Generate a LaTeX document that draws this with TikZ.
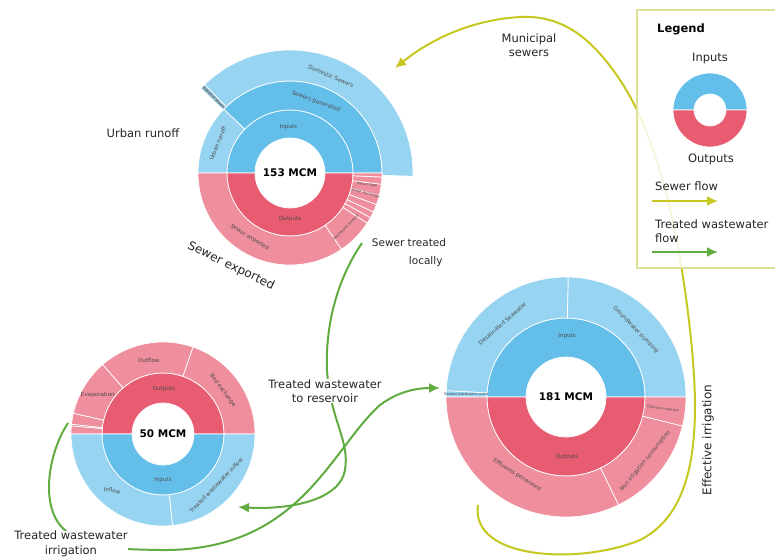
\documentclass[tikz,border=0pt]{standalone}
\usepackage{fontspec}
\setmainfont{DejaVu Sans}
\usetikzlibrary{arrows.meta}
\definecolor{blueD}{RGB}{100,190,234}
\definecolor{blueL}{RGB}{150,212,241}
\definecolor{redD}{RGB}{232,92,114}
\definecolor{redL}{RGB}{239,142,157}
\definecolor{ylw}{RGB}{198,200,32}
\definecolor{grn}{RGB}{96,172,64}
\definecolor{lgnd}{RGB}{222,224,150}
\newcommand{\sbw}[5]{\fill[#1,draw=white,line width=0.7pt] (#2:#5pt) arc[start angle=#2,end angle=#3,radius=#5pt] -- (#3:#4pt) arc[start angle=#3,end angle=#2,radius=#4pt] -- cycle;}
\tikzset{
  tiny/.style={font=\fontsize{5.6}{6}\selectfont, text=black!70, inner sep=0pt},
  micro/.style={font=\fontsize{3.5}{4}\selectfont, text=black!70, inner sep=0pt},
  lbl/.style={font=\fontsize{11.5}{14.5}\selectfont, text=black!85, align=center, inner sep=1pt},
  mcm/.style={font=\bfseries\fontsize{10.5}{12}\selectfont, text=black},
  yflow/.style={draw=ylw, line width=2pt, -{Latex[length=11pt,width=10pt]}},
  gflow/.style={draw=grn, line width=2pt, -{Latex[length=11pt,width=10pt]}},
}
\begin{document}
\begin{tikzpicture}[x=1pt,y=-1pt]
\useasboundingbox[fill=white] (0,0) rectangle (775,558);

% ---------- top sunburst ----------
\begin{scope}[shift={(290,173)}]
\sbw{blueD}{0}{180}{35}{63}
\sbw{redD}{180}{360}{35}{63}
\sbw{blueD}{0}{136}{63}{92}
\sbw{blueL}{136}{180}{63}{92}
\sbw{blueL}{-1.5}{134}{92}{123}
\sbw{blueL!70!gray}{134}{136.5}{92}{123}
\sbw{redL}{180}{304}{63}{92}
\sbw{redL}{304}{327}{63}{92}
\sbw{redL}{327}{331}{63}{92}
\sbw{redL}{331}{335}{63}{92}
\sbw{redL}{335}{340}{63}{92}
\sbw{redL}{340}{346}{63}{92}
\sbw{redL}{346}{353}{63}{92}
\sbw{redL}{353}{357.5}{63}{92}
\sbw{redL}{357.5}{360}{63}{92}
\node[tiny] (tIn) at (92:46pt) {Inputs};
\node[tiny] (tOut) at (270:46pt) {Outputs};
\node[tiny,rotate=-20] (tSg) at (70:76pt) {Sewers generated};
\node[tiny,rotate=-23] (tDs) at (67:105pt) {Domestic Sewers};
\node[tiny,rotate=68] (tUr) at (158:78pt) {Urban runoff};
\node[micro,rotate=-45] (tIs) at (135.2:107pt) {Industrial sewers};
\node[tiny,rotate=-32] (tSe) at (238:76pt) {Sewer exported};
\node[micro,rotate=45] (tWt) at (315.5:78pt) {Wastewater treated};
\node[micro,rotate=-8.5] (tRf) at (-8.5:78pt) {Return flow};
\node[micro,rotate=-15] (tSd) at (-15:78pt) {Sewer discharge};
\node[mcm] (m153) at (0,0) {153 MCM};
\end{scope}

% ---------- bottom-left sunburst ----------
\begin{scope}[shift={(163,434)}]
\sbw{redD}{0}{180}{31}{61}
\sbw{blueD}{180}{360}{31}{61}
\sbw{redL}{0}{71}{61}{92}
\sbw{redL}{71}{131}{61}{92}
\sbw{redL}{131}{167}{61}{92}
\sbw{redL}{167}{174}{61}{92}
\sbw{redL!85!black}{174}{175}{61}{92}
\sbw{redL}{175}{180}{61}{92}
\sbw{blueL}{180}{276}{61}{92}
\sbw{blueL}{276}{360}{61}{92}
\node[tiny] (bOut) at (89:45pt) {Outputs};
\node[tiny] (bIn) at (270:46pt) {Inputs};
\node[tiny] (bOf) at (101:75pt) {Outflow};
\node[tiny] (bEv) at (149:76pt) {Evaporation};
\node[tiny,rotate=-54] (bBe) at (36:74pt) {Bed exchange};
\node[tiny,rotate=-10] (bIf) at (228:76pt) {Inflow};
\node[tiny,rotate=46] (bTw) at (-44:74pt) {Treated wastewater inflow};
\node[mcm] (m50) at (0,0) {50 MCM};
\end{scope}

% ---------- right sunburst ----------
\begin{scope}[shift={(566,397)}]
\sbw{blueD}{0}{180}{40}{79}
\sbw{redD}{180}{360}{40}{79}
\sbw{blueL}{0}{89}{79}{120}
\sbw{blueL}{89}{177}{79}{120}
\sbw{blueL}{177}{180}{79}{120}
\sbw{redL}{180}{296}{79}{120}
\sbw{redL}{296}{346}{79}{120}
\sbw{redL}{346}{360}{79}{120}
\node[tiny] (rIn) at (89:61pt) {Inputs};
\node[tiny] (rOut) at (271:60pt) {Outputs};
\node[tiny,rotate=41] (rDs) at (131:97pt) {Desalinated Seawater};
\node[tiny,rotate=-46] (rGp) at (44:97pt) {Groundwater pumping};
\node[micro] (rTp) at (178.5:100pt) {Treated wastewater plant};
\node[micro,rotate=-7] (rEi) at (-7:98pt) {Effective irrigation};
\node[tiny,rotate=51] (rNc) at (-39:102pt) {Non irrigation consumption};
\node[tiny,rotate=-32] (rEg) at (238:92pt) {Effluents generated};
\node[mcm] (m181) at (0,0) {181 MCM};
\end{scope}

% ---------- flows ----------
\coordinate (ys) at (478,505);
\coordinate (ye) at (395,68);
\draw[yflow] (ys) .. controls (470,560) and (580,565) .. (640,540)
  .. controls (700,510) and (700,420) .. (690,330)
  .. controls (680,240) and (660,140) .. (620,80)
  .. controls (590,35) and (560,15) .. (520,17)
  .. controls (470,20) and (430,40) .. (ye);

\coordinate (g1s) at (362,243);
\coordinate (g1e) at (238,507);
\draw[gflow] (g1s) .. controls (340,275) and (325,320) .. (327,370)
  .. controls (330,420) and (350,440) .. (345,470)
  .. controls (340,500) and (290,510) .. (g1e);

\coordinate (g2s) at (68,423);
\coordinate (g2e) at (440,388);
\draw[gflow] (g2s) .. controls (50,450) and (40,500) .. (60,525)
  .. controls (80,550) and (120,549) .. (160,550)
  .. controls (300,552) and (330,450) .. (380,405)
  .. controls (400,390) and (420,388) .. (g2e);

% ---------- labels ----------
\node[lbl] (urb) at (143,133) {Urban runoff};
\node[lbl,font=\fontsize{12}{14}\selectfont,rotate=-26] (sexp) at (231,266) {Sewer exported};
\node[lbl,font=\fontsize{10.5}{18}\selectfont,align=left] (stl) at (409,253) {Sewer treated\\\hspace*{37pt}locally};
\node[lbl] (mun) at (529,45) {Municipal\\sewers};
\node[lbl,fill=white,inner sep=0pt] (twr) at (325,391) {Treated wastewater\\to reservoir};
\node[lbl,fill=white,inner sep=0pt] (twi) at (71,544) {Treated wastewater\\irrigation};
\node[lbl,font=\fontsize{12}{14}\selectfont,rotate=90] (eff) at (708,440) {Effective irrigation};

% ---------- legend ----------
\draw[lgnd,line width=1.5pt,fill=white,fill opacity=0.85] (637,10) rectangle (790,268);
\node[font=\bfseries\fontsize{11.5}{13}\selectfont,anchor=west,inner sep=0pt] (lg) at (657,29) {Legend};
\node[lbl] (lgIn) at (710,58) {Inputs};
\begin{scope}[shift={(710,110)}]
\sbw{blueD}{0}{180}{16}{37}
\sbw{redD}{180}{360}{16}{37}
\end{scope}
\node[lbl] (lgOut) at (711,159) {Outputs};
\node[lbl,anchor=west,inner sep=0pt] (lgS) at (655,186) {Sewer flow};
\coordinate (ls1) at (652,201);
\coordinate (ls2) at (718,201);
\draw[yflow] (ls1) -- (ls2);
\node[lbl,anchor=west,align=left,inner sep=0pt] (lgT) at (655,231) {Treated wastewater\\flow};
\coordinate (lt1) at (652,252);
\coordinate (lt2) at (718,252);
\draw[gflow] (lt1) -- (lt2);
\end{tikzpicture}
\end{document}
